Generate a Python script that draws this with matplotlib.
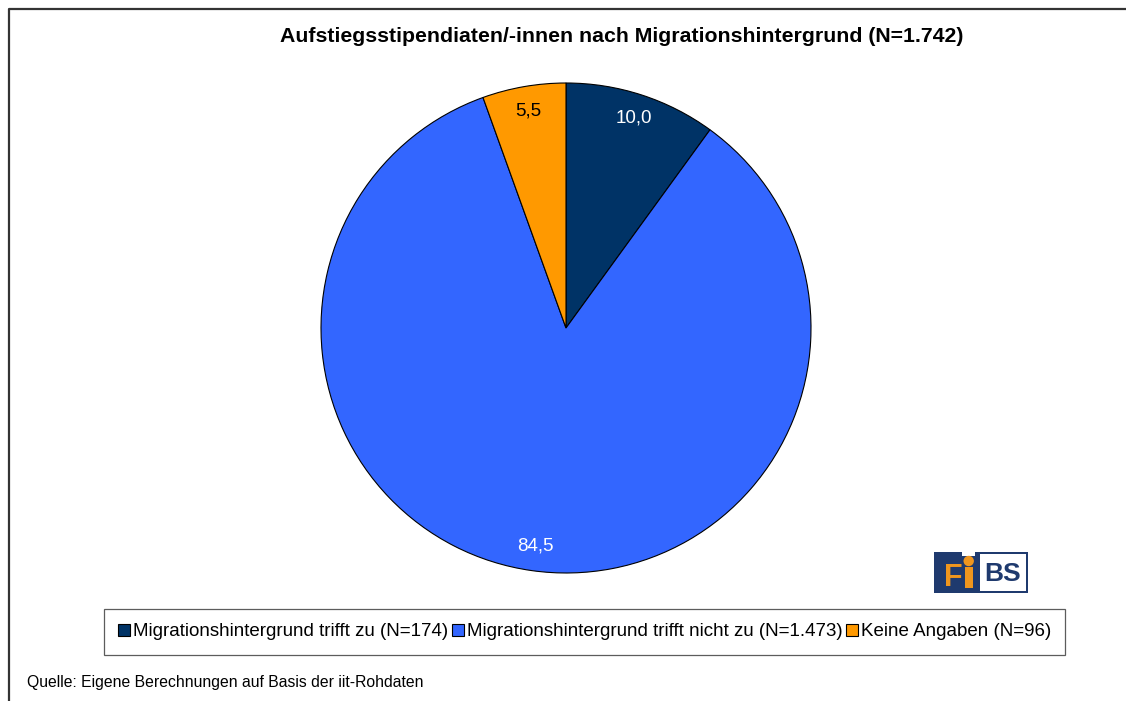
import matplotlib.pyplot as plt
from matplotlib.patches import Rectangle, Circle
from matplotlib.lines import Line2D

# Daten
labels = ['Migrationshintergrund trifft zu (N=174)',
          'Migrationshintergrund trifft nicht zu (N=1.473)',
          'Keine Angaben (N=96)']
shares = [10.0, 84.5, 5.5]
colors = ['#003366', '#3366FF', '#FF9900']
label_colors = ['white', 'white', 'black']

plt.rcParams['font.family'] = ['Liberation Sans', 'DejaVu Sans']

W, H = 1126, 701
fig = plt.figure(figsize=(W / 100, H / 100), dpi=100)

# Rahmen (nur oben und links sichtbar)
fig.lines.append(Line2D([8.5 / W, 8.5 / W, 1], [0, 1 - 8.5 / H, 1 - 8.5 / H],
                        transform=fig.transFigure, color='#333333', linewidth=1.6))

# Kreisdiagramm
cx, cy, r = 566, 328, 245
ax = fig.add_axes([(cx - r) / W, (H - cy - r) / H, 2 * r / W, 2 * r / H])
wedges, texts = ax.pie(shares, colors=colors, startangle=90, counterclock=False,
                       labels=[f'{v:.1f}'.replace('.', ',') for v in shares],
                       labeldistance=0.9,
                       wedgeprops=dict(edgecolor='black', linewidth=0.8))
for t, c in zip(texts, label_colors):
    t.set_color(c)
    t.set_fontsize(13.5)
    t.set_ha('center')
    t.set_va('center')
ax.set_xlim(-1, 1)
ax.set_ylim(-1, 1)
ax.set_aspect('equal')
ax.axis('off')

# Titel
fig.text(622 / W, 1 - 36 / H, 'Aufstiegsstipendiaten/-innen nach Migrationshintergrund (N=1.742)',
         ha='center', va='center', fontsize=15.3, fontweight='bold')

# Legende
handles = [Rectangle((0, 0), 1, 1, facecolor=c, edgecolor='black', linewidth=0.8) for c in colors]
leg = fig.legend(handles, labels, ncol=3, loc='center',
                 bbox_to_anchor=(584.5 / W, 1 - 632 / H),
                 fontsize=13.5, handlelength=0.65, handleheight=0.65,
                 handletextpad=0.15, columnspacing=0.2, borderpad=0.75,
                 fancybox=False, frameon=True, edgecolor='#333333')
leg.get_frame().set_linewidth(0.9)

# Quelle
fig.text(27 / W, 1 - 683 / H, 'Quelle: Eigene Berechnungen auf Basis der iit-Rohdaten',
         ha='left', va='center', fontsize=11.3)

# Logo FiBS
navy = '#1F3A6E'
orange = '#F0961E'
lx, ly, lw, lh = 934, 552, 94, 41
fig.patches.append(Rectangle((lx / W, 1 - (ly + lh) / H), lw / W, lh / H,
                             transform=fig.transFigure, facecolor=navy, edgecolor='none'))
fig.patches.append(Rectangle((980 / W, 1 - 591 / H), 46 / W, 37 / H,
                             transform=fig.transFigure, facecolor='white', edgecolor='none'))
# Aussparung oberhalb des i-Punkts
fig.patches.append(Rectangle((962 / W, 1 - 556 / H), 13 / W, 4 / H,
                             transform=fig.transFigure, facecolor='white', edgecolor='none'))
fig.text(953 / W, 1 - 578 / H, 'F', ha='center', va='center',
         fontsize=22, fontweight='bold', color=orange)
fig.patches.append(Rectangle((965 / W, 1 - 588 / H), 7.5 / W, 21 / H,
                             transform=fig.transFigure, facecolor=orange, edgecolor='none'))
fig.patches.append(Circle((968.7, H - 561), 5.2, transform=None,
                          facecolor=orange, edgecolor='none'))
fig.text(1003 / W, 1 - 574 / H, 'BS', ha='center', va='center',
         fontsize=19, fontweight='bold', color=navy)

fig.savefig('out.png', dpi=100)
